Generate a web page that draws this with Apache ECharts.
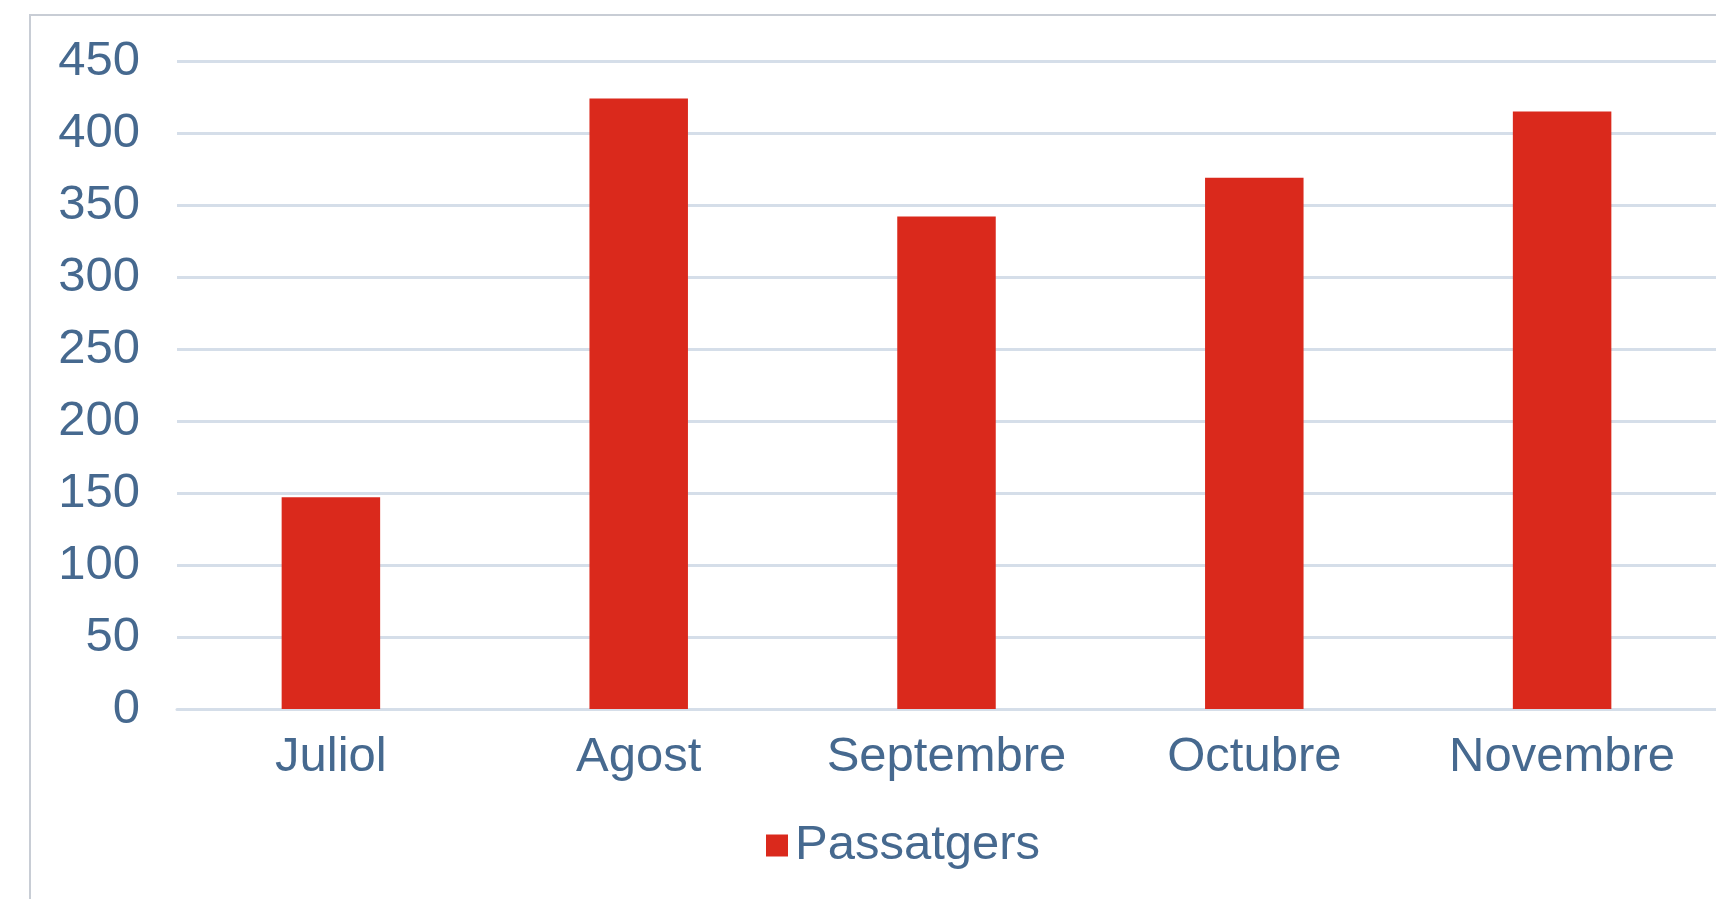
<!DOCTYPE html>
<html>
<head>
<meta charset="utf-8">
<script src="https://cdn.jsdelivr.net/npm/echarts@6/dist/echarts.min.js"></script>
<style>
  html, body { margin: 0; padding: 0; background: #fff; }
  #chart { width: 1716px; height: 899px; }
</style>
</head>
<body>
<div id="chart"></div>
<script>
// dades del gràfic
const months = ['Juliol', 'Agost', 'Septembre', 'Octubre', 'Novembre'];
const passengers = [147, 424, 342, 369, 415];
const seriesName = 'Passatgers';
const yTicks = { min: 0, max: 450, step: 50 };

const textColor = '#46698f';
const gridColor = '#d5dee9';
const barColor = '#da291c';
const font = '"Liberation Sans", Arial, sans-serif';

const chart = echarts.init(document.getElementById('chart'));
chart.setOption({
  animation: false,
  // marc del quadre (retallat a la dreta i a baix)
  graphic: [{
    type: 'rect',
    shape: { x: 30, y: 15, width: 2000, height: 2000 },
    style: { fill: 'none', stroke: '#c8cdd5', lineWidth: 2 },
    silent: true
  }],
  grid: { left: 177, right: -4, top: 61, bottom: 190 },
  legend: {
    data: [seriesName],
    left: 761,
    top: 816,
    icon: 'rect',
    itemWidth: 22,
    itemHeight: 22,
    itemGap: 10,
    textStyle: { color: textColor, fontSize: 49, fontFamily: font, padding: [0, 0, 0, 2] }
  },
  xAxis: {
    type: 'category',
    data: months,
    axisTick: { show: false },
    axisLine: { lineStyle: { color: gridColor, width: 3 } },
    axisLabel: { color: textColor, fontSize: 49, fontFamily: font, margin: 24, interval: 0 }
  },
  yAxis: {
    type: 'value',
    min: yTicks.min,
    max: yTicks.max,
    interval: yTicks.step,
    axisLine: { show: false },
    axisTick: { show: false },
    splitLine: { lineStyle: { color: gridColor, width: 3 } },
    axisLabel: { color: textColor, fontSize: 49, fontFamily: font, margin: 37, padding: [0, 0, 8, 0] }
  },
  series: [{
    name: seriesName,
    type: 'bar',
    data: passengers,
    barWidth: '32%',
    itemStyle: { color: barColor }
  }]
});
</script>
</body>
</html>
